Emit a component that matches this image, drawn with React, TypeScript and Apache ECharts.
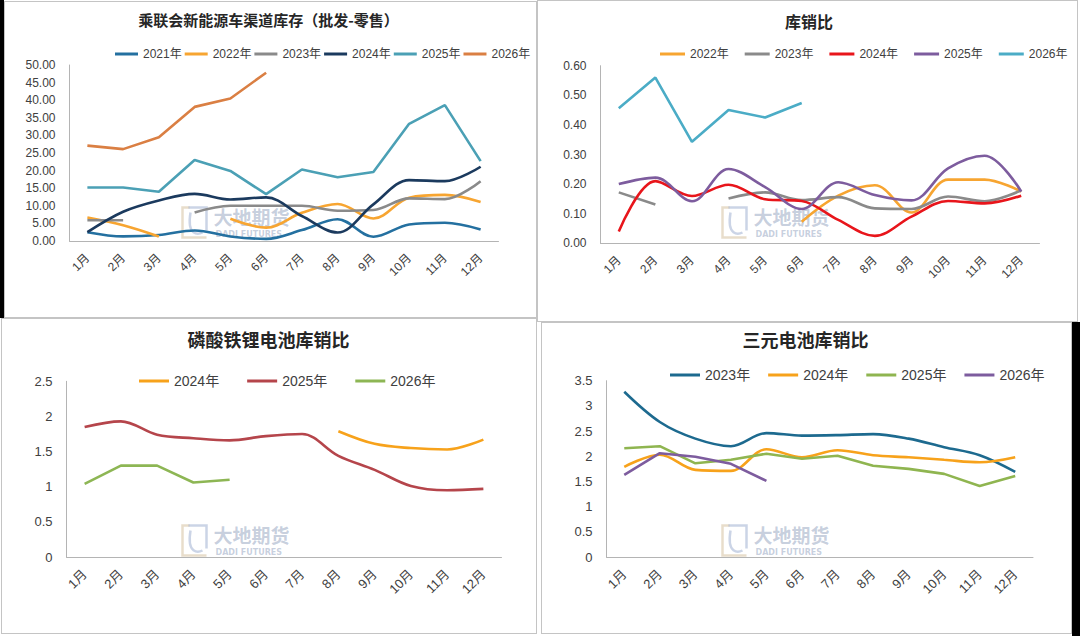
import React, { useEffect, useRef } from 'react';
import * as echarts from 'echarts';

const months = ['1月', '2月', '3月', '4月', '5月', '6月', '7月', '8月', '9月', '10月', '11月', '12月'];

// 乘联会新能源车渠道库存（批发-零售）
const nev2021 = [2.5, 1.3, 1.7, 3.0, 1.3, 0.6, 3.1, 6.2, 1.2, 4.7, 5.2, 3.3];
const nev2022 = [6.7, 4.5, 1.3, null, 6.3, 3.8, 8.0, 10.5, 6.4, 12.3, 13.1, 11.1];
const nev2023 = [5.9, 5.9, null, 8.1, 10.0, 10.0, 10.0, 8.6, 8.8, 12.1, 11.9, 17.0];
const nev2024 = [2.5, 8.3, 11.5, 13.4, 11.8, 12.4, 7.1, 2.4, 10.4, 17.3, 17.0, 21.1];
const nev2025 = [15.2, 15.2, 14.0, 23.0, 19.9, 13.3, 20.3, 18.1, 19.6, 33.3, 38.6, 22.7];
const nev2026 = [27.1, 26.1, 29.5, 38.1, 40.5, 47.8, null, null, null, null, null, null];

// 库销比
const ratio2022 = [null, null, null, null, null, 0.073, 0.161, 0.196, 0.104, 0.215, 0.215, 0.175];
const ratio2023 = [0.172, 0.131, null, 0.151, 0.172, 0.146, 0.156, 0.118, 0.116, 0.158, 0.142, 0.179];
const ratio2024 = [0.04, 0.21, 0.16, 0.198, 0.149, 0.143, 0.079, 0.025, 0.09, 0.143, 0.135, 0.161];
const ratio2025 = [0.2, 0.222, 0.142, 0.251, 0.19, 0.116, 0.206, 0.163, 0.145, 0.253, 0.296, 0.175];
const ratio2026 = [0.456, 0.56, 0.343, 0.45, 0.425, 0.474, null, null, null, null, null, null];

// 磷酸铁锂电池库销比
const lfp2024 = [null, null, null, null, null, null, null, 1.79, 1.61, 1.55, 1.53, 1.67];
const lfp2025 = [1.85, 1.93, 1.74, 1.69, 1.66, 1.72, 1.75, 1.44, 1.24, 1.01, 0.95, 0.97];
const lfp2026 = [1.04, 1.3, 1.3, 1.06, 1.1, null, null, null, null, null, null, null];

// 三元电池库销比
const ncm2023 = [3.28, 2.68, 2.35, 2.2, 2.46, 2.41, 2.42, 2.44, 2.35, 2.18, 2.02, 1.69];
const ncm2024 = [1.79, 2.03, 1.73, 1.71, 2.14, 1.98, 2.12, 2.02, 1.98, 1.93, 1.88, 1.98];
const ncm2025 = [2.16, 2.2, 1.86, 1.93, 2.05, 1.95, 2.01, 1.81, 1.75, 1.65, 1.41, 1.61];
const ncm2026 = [1.63, 2.06, 1.99, 1.85, 1.51, null, null, null, null, null, null, null];

const FONT = "'Liberation Sans', 'Noto Sans CJK SC', sans-serif";
const CJK = "'Noto Sans CJK SC', sans-serif";

const line = (name: string, data: (number | null)[], color: string, smooth: boolean) => ({
  name,
  type: 'line',
  data,
  smooth: smooth ? 0.35 : false,
  symbol: 'none',
  connectNulls: false,
  lineStyle: { color, width: 2.6 },
  itemStyle: { color },
});

// faded company mark in the middle of every plot
const watermark = () => ({
  type: 'group',
  left: 180,
  top: 205,
  silent: true,
  z: -1,
  children: [
    {
      type: 'polyline',
      shape: { points: [[9, 1], [2, 1], [2, 31], [26, 31]] },
      style: { stroke: 'rgba(205,180,140,0.45)', lineWidth: 2.5, fill: null },
    },
    {
      type: 'polyline',
      shape: { points: [[8, 1], [26, 1], [26, 24]] },
      style: { stroke: 'rgba(140,160,200,0.45)', lineWidth: 2.5, fill: null },
    },
    {
      type: 'bezierCurve',
      shape: { x1: 10, y1: 6, x2: 22, y2: 26, cpx1: 6, cpy1: 30, cpx2: 18, cpy2: 28 },
      style: { stroke: 'rgba(140,160,200,0.45)', lineWidth: 2.5, fill: null },
    },
    {
      type: 'text',
      x: 33,
      y: 0,
      style: { text: '大地期货', font: `bold 19px ${CJK}`, fill: 'rgba(120,140,175,0.42)' },
    },
    {
      type: 'text',
      x: 35,
      y: 24,
      style: { text: 'DADI FUTURES', font: `bold 8px 'DejaVu Sans', sans-serif`, fill: 'rgba(120,140,175,0.42)' },
    },
  ],
});

interface PanelCfg {
  title: string;
  titleSize: number;
  titleTop: number;
  legendLeft: number;
  legendTop: number;
  legendFont: number;
  legendGap: number;
  legendIcon: number;
  grid: { left: number; top: number; width: number; height: number };
  yMax: number;
  yInterval: number;
  decimals: number | null;
  labelFont: number;
  series: any[];
}

const buildOption = (c: PanelCfg) => ({
  animation: false,
  title: {
    text: c.title,
    left: 'center',
    top: c.titleTop,
    padding: 0,
    textStyle: { fontFamily: CJK, fontWeight: 'bold', fontSize: c.titleSize, color: '#262626' },
  },
  legend: {
    left: c.legendLeft,
    top: c.legendTop,
    width: 1000,
    padding: 0,
    icon: 'rect',
    itemWidth: c.legendIcon,
    itemHeight: 3,
    itemGap: c.legendGap,
    textStyle: { fontFamily: FONT, fontSize: c.legendFont, color: '#404040' },
    data: c.series.map((s) => s.name),
  },
  grid: { ...c.grid, containLabel: false },
  xAxis: {
    type: 'category',
    data: months,
    boundaryGap: true,
    axisLine: { show: true, lineStyle: { color: '#b4b4b4', width: 1 } },
    axisTick: { show: false },
    axisLabel: { rotate: 45, interval: 0, margin: 15, fontFamily: FONT, fontSize: c.labelFont, color: '#404040' },
  },
  yAxis: {
    type: 'value',
    min: 0,
    max: c.yMax,
    interval: c.yInterval,
    axisLine: { show: true, lineStyle: { color: '#b4b4b4', width: 1 } },
    axisTick: { show: false },
    splitLine: { show: false },
    axisLabel: {
      margin: 14,
      fontFamily: FONT,
      fontSize: c.labelFont,
      color: '#404040',
      formatter: (v: number) => (c.decimals === null ? String(Math.round(v * 10) / 10) : v.toFixed(c.decimals)),
    },
  },
  graphic: [watermark()],
  series: c.series,
});

const panels: { box: [number, number, number, number]; cfg: PanelCfg }[] = [
  {
    box: [0, 0, 537, 318],
    cfg: {
      title: '乘联会新能源车渠道库存（批发-零售）',
      titleSize: 15,
      titleTop: 12,
      legendLeft: 115,
      legendTop: 48,
      legendFont: 12,
      legendGap: 3,
      legendIcon: 23,
      grid: { left: 69.5, top: 65, width: 429, height: 176 },
      yMax: 50,
      yInterval: 5,
      decimals: 2,
      labelFont: 12,
      series: [
        line('2021年', nev2021, '#2470A0', true),
        line('2022年', nev2022, '#F7A531', true),
        line('2023年', nev2023, '#8A8A8A', true),
        line('2024年', nev2024, '#1B3A5E', true),
        line('2025年', nev2025, '#4BA0B5', false),
        line('2026年', nev2026, '#DA7F43', false),
      ],
    },
  },
  {
    box: [540, 0, 538, 321],
    cfg: {
      title: '库销比',
      titleSize: 16,
      titleTop: 13,
      legendLeft: 120,
      legendTop: 48,
      legendFont: 12,
      legendGap: 16,
      legendIcon: 25,
      grid: { left: 60.5, top: 65.7, width: 439, height: 177.6 },
      yMax: 0.6,
      yInterval: 0.1,
      decimals: 2,
      labelFont: 12,
      series: [
        line('2022年', ratio2022, '#F7A531', true),
        line('2023年', ratio2023, '#8A8A8A', true),
        line('2024年', ratio2024, '#E8151B', true),
        line('2025年', ratio2025, '#7D5C9E', true),
        line('2026年', ratio2026, '#4BACC6', false),
      ],
    },
  },
  {
    box: [0, 318, 537, 316],
    cfg: {
      title: '磷酸铁锂电池库销比',
      titleSize: 18,
      titleTop: 12,
      legendLeft: 139,
      legendTop: 56,
      legendFont: 14,
      legendGap: 28,
      legendIcon: 30,
      grid: { left: 66.5, top: 63.3, width: 435, height: 175.7 },
      yMax: 2.5,
      yInterval: 0.5,
      decimals: null,
      labelFont: 13,
      series: [
        line('2024年', lfp2024, '#F7A21B', true),
        line('2025年', lfp2025, '#B5454B', true),
        line('2026年', lfp2026, '#8DB654', false),
      ],
    },
  },
  {
    box: [540, 318, 531, 316],
    cfg: {
      title: '三元电池库销比',
      titleSize: 18,
      titleTop: 12,
      legendLeft: 130,
      legendTop: 50,
      legendFont: 14,
      legendGap: 18,
      legendIcon: 30,
      grid: { left: 66.5, top: 62.7, width: 426.5, height: 176.3 },
      yMax: 3.5,
      yInterval: 0.5,
      decimals: null,
      labelFont: 13,
      series: [
        line('2023年', ncm2023, '#1D6A8F', true),
        line('2024年', ncm2024, '#F7A21B', true),
        line('2025年', ncm2025, '#8FB550', false),
        line('2026年', ncm2026, '#7D5C9E', false),
      ],
    },
  },
];

const Panel: React.FC<{ box: [number, number, number, number]; cfg: PanelCfg }> = ({ box, cfg }) => {
  const ref = useRef<HTMLDivElement>(null);

  useEffect(() => {
    if (!ref.current) return;
    const chart = echarts.init(ref.current, undefined, { renderer: 'svg' });
    chart.setOption(buildOption(cfg));
    return () => {
      chart.dispose();
    };
  }, [cfg]);

  return (
    <div
      ref={ref}
      style={{ position: 'absolute', left: box[0], top: box[1], width: box[2], height: box[3] }}
    />
  );
};

const borders = [
  { left: 4, top: 1, width: 533, height: 317 },
  { left: 537, top: 0, width: 541, height: 322 },
  { left: 1, top: 318, width: 536, height: 316 },
  { left: 541, top: 322, width: 531, height: 312 },
];

const App: React.FC = () => (
  <div
    style={{
      position: 'fixed',
      left: 0,
      top: 0,
      width: 1080,
      height: 636,
      background: '#ffffff',
      overflow: 'hidden',
    }}
  >
    {panels.map((p, i) => (
      <Panel key={i} box={p.box} cfg={p.cfg} />
    ))}
    {borders.map((b, i) => (
      <div
        key={'b' + i}
        style={{
          position: 'absolute',
          ...b,
          boxSizing: 'border-box',
          border: '1px solid #c4c4c4',
          pointerEvents: 'none',
        }}
      />
    ))}
    <div style={{ position: 'absolute', left: 0, top: 0, width: 4, height: 318, background: '#000' }} />
    <div style={{ position: 'absolute', left: 1072, top: 322, width: 8, height: 314, background: '#000' }} />
  </div>
);

export default App;
